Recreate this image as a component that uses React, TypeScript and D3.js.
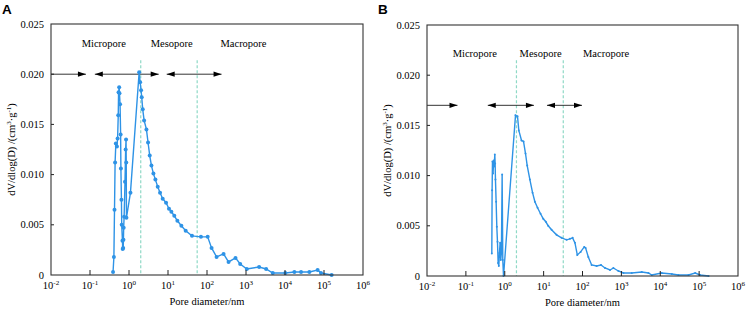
import React from "react";
import * as d3 from "d3";

// Pore size distribution, sample A (diameter in nm, dV/dlog(D) in cm³·g⁻¹)
const diamA = [
  0.39, 0.41, 0.425, 0.44, 0.46, 0.49, 0.51, 0.53, 0.54, 0.56, 0.57, 0.59, 0.61, 0.62,
  0.64, 0.65, 0.68, 0.69, 0.71, 0.72, 0.73, 0.75, 0.79, 0.82, 0.84, 0.85, 0.86, 1.09,
  1.82, 1.93, 2.04, 2.12, 2.25, 2.44, 2.8, 3.08, 3.4, 3.76, 4.23, 4.75, 5.45, 6.25,
  7.31, 8.91, 10.6, 12.2, 14.5, 17.4, 22.0, 28.4, 41.2, 70, 104, 131, 176, 266, 357,
  538, 710, 1050, 2170, 3280, 4850, 10200, 17400, 25800, 42100, 68700, 83600, 157000,
];
const dvA = [
  0.0003, 0.0018, 0.0065, 0.0112, 0.0131, 0.0128, 0.0136, 0.0159, 0.0182, 0.0187, 0.0181,
  0.017, 0.014, 0.0106, 0.0075, 0.005, 0.0034, 0.0026, 0.0027, 0.0035, 0.0047, 0.0058,
  0.0093, 0.0125, 0.0135, 0.0112, 0.0057, 0.0082, 0.0202, 0.0192, 0.0184, 0.0177, 0.0165,
  0.0154, 0.0145, 0.0132, 0.0119, 0.0109, 0.0101, 0.0095, 0.0088, 0.0082, 0.0076, 0.0072,
  0.0066, 0.0063, 0.0059, 0.0054, 0.0049, 0.0044, 0.0039, 0.0038, 0.0038, 0.0027, 0.0018,
  0.0021, 0.0013, 0.0017, 0.0011, 0.0006, 0.0008, 0.0006, 0.0002, 0.0002, 0.0003, 0.0003,
  0.0003, 0.0005, 0.0002, 0.0,
];

// Pore size distribution, sample B
const diamB = [
  0.465, 0.473, 0.483, 0.5, 0.52, 0.533, 0.555, 0.566, 0.577, 0.6, 0.625, 0.65, 0.676,
  0.703, 0.731, 0.76, 0.79, 0.82, 0.857, 0.89, 0.93, 1.89, 2.13, 2.3, 2.7, 3.04, 3.42,
  3.78, 4.43, 5.19, 5.96, 6.98, 8.34, 9.77, 11.4, 13.1, 16.0, 21.5, 29.0, 39.0, 47.5,
  55.7, 64.0, 73.5, 89.5, 111, 120, 141, 172, 231, 299, 379, 510, 622, 837, 1130, 1850,
  3340, 4970, 6050, 10900, 19800, 29400, 53300, 79200, 106000, 175000,
];
const dvB = [
  0.00225, 0.00855, 0.0114, 0.0102, 0.0115, 0.0109, 0.0121, 0.0112, 0.0096, 0.0074,
  0.0049, 0.0034, 0.0013, 0.001, 0.0023, 0.0033, 0.0016, 0.0023, 0.0101, 0.0016, 0.0,
  0.016, 0.0159, 0.0145, 0.0135, 0.0134, 0.0122, 0.011, 0.0096, 0.0083, 0.0074, 0.0068,
  0.0062, 0.0057, 0.0054, 0.005, 0.0046, 0.0041, 0.0038, 0.0036, 0.0037, 0.0038, 0.0033,
  0.0021, 0.0024, 0.0029, 0.0028, 0.0019, 0.0011, 0.001, 0.0011, 0.0008, 0.0006, 0.0008,
  0.0005, 0.0003, 0.0003, 0.0004, 0.0003, 0.0001, 0.0003, 0.0002, 0.0001, 0.0001, 0.0003,
  0.0001, 0.0,
];

const yTicks = [0, 0.005, 0.01, 0.015, 0.02, 0.025];
const xTickExps = [-2, -1, 0, 1, 2, 3, 4, 5, 6];
const regionNames = ["Micropore", "Mesopore", "Macropore"];

// Region annotations (positions in data units: nm)
const regionLabelXA = [0.226, 12.4, 863];
const regionLabelXB = [0.17, 8.37, 404];
const arrowsA: [number, number, boolean][] = [
  [0.01, 0.0786, false],
  [0.133, 5.78, true],
  [9.27, 236, true],
];
const arrowsB: [number, number, boolean][] = [
  [0.01, 0.0608, false],
  [0.366, 5.63, true],
  [12.2, 97, true],
];
const boundariesA = [2, 56];
const boundariesB = [2, 32];

const SERIF = "Liberation Serif, Times New Roman, Times, serif";
const SANS = "Liberation Sans, Arial, Helvetica, sans-serif";
const BLUE = "#2E93E6";
const DASH = "#8FD9C6";

const serifStyle = { fontFamily: SERIF, fontSize: "10.5px" } as React.CSSProperties;

type PanelProps = {
  title: string;
  titleX: number;
  left: number;
  right: number;
  top: number;
  bottom: number;
  diam: number[];
  dv: number[];
  r: number;
  arrowV: number;
  arrows: [number, number, boolean][];
  labelXs: number[];
  labelY: number;
  bounds: number[];
  dashTopV: number;
};

function ArrowHead({ x, y, dir }: { x: number; y: number; dir: 1 | -1 }) {
  const L = 8;
  const H = 2.6;
  return (
    <path
      d={`M${x},${y} L${x - dir * L},${y - H} L${x - dir * L},${y + H} Z`}
      fill="#000"
    />
  );
}

function Panel(p: PanelProps) {
  const x = d3.scaleLog().domain([1e-2, 1e6]).range([p.left, p.right]);
  const y = d3.scaleLinear().domain([0, 0.025]).range([p.bottom, p.top]);
  const pts = p.diam.map((d, i) => [d, p.dv[i]] as [number, number]);
  const line = d3
    .line<[number, number]>()
    .x((d) => x(d[0]))
    .y((d) => y(d[1]));
  const ay = y(p.arrowV);
  const cx = (p.left + p.right) / 2;
  const cy = (p.top + p.bottom) / 2;

  return (
    <g>
      <text
        x={p.titleX}
        y={14}
        style={{ fontFamily: SANS, fontWeight: "bold", fontSize: "13.5px" }}
      >
        {p.title}
      </text>

      {/* region boundaries */}
      {p.bounds.map((b, i) => (
        <line
          key={"b" + i}
          x1={x(b)}
          x2={x(b)}
          y1={y(p.dashTopV)}
          y2={p.bottom}
          stroke={DASH}
          strokeWidth={1.2}
          strokeDasharray="3,2"
        />
      ))}

      {/* region labels */}
      {regionNames.map((n, i) => (
        <text key={n} x={x(p.labelXs[i])} y={p.labelY} textAnchor="middle" style={serifStyle}>
          {n}
        </text>
      ))}

      {/* region arrows */}
      {p.arrows.map(([a, b, both], i) => (
        <g key={"a" + i}>
          <line x1={x(a)} x2={x(b)} y1={ay} y2={ay} stroke="#000" strokeWidth={0.8} />
          <ArrowHead x={x(b)} y={ay} dir={1} />
          {both && <ArrowHead x={x(a)} y={ay} dir={-1} />}
        </g>
      ))}

      {/* data */}
      <path d={line(pts) || ""} fill="none" stroke={BLUE} strokeWidth={1.4} />
      {pts.map((d, i) => (
        <circle key={"p" + i} cx={x(d[0])} cy={y(d[1])} r={p.r} fill={BLUE} />
      ))}

      {/* frame */}
      <rect
        x={p.left}
        y={p.top}
        width={p.right - p.left}
        height={p.bottom - p.top}
        fill="none"
        stroke="#333"
        strokeWidth={1.1}
      />

      {/* x ticks */}
      {xTickExps.map((e) => {
        const xx = x(Math.pow(10, e));
        return (
          <g key={"x" + e}>
            {e > -2 && e < 6 && (
              <line x1={xx} x2={xx} y1={p.bottom} y2={p.bottom - 5} stroke="#222" strokeWidth={1} />
            )}
            <text x={xx} y={p.bottom + 14} textAnchor="middle" style={serifStyle}>
              10
              <tspan dy={-4.5} style={{ fontSize: "7px" }}>
                {String(e)}
              </tspan>
            </text>
          </g>
        );
      })}

      {/* y ticks */}
      {yTicks.map((t) => (
        <g key={"y" + t}>
          {t > 0 && t < 0.025 && (
            <line x1={p.left} x2={p.left + 3} y1={y(t)} y2={y(t)} stroke="#222" strokeWidth={1} />
          )}
          <text x={p.left - 7} y={y(t) + 3.6} textAnchor="end" style={serifStyle}>
            {t === 0 ? "0" : t.toFixed(3)}
          </text>
        </g>
      ))}

      {/* axis titles */}
      <text x={cx} y={p.bottom + 30} textAnchor="middle" style={serifStyle}>
        Pore diameter/nm
      </text>
      <text
        transform={`translate(${p.left - 36},${cy}) rotate(-90)`}
        textAnchor="middle"
        style={serifStyle}
      >
        dV/dlog(D) /(cm
        <tspan dy={-4} style={{ fontSize: "7px" }}>
          3
        </tspan>
        <tspan dy={4}>·g</tspan>
        <tspan dy={-4} style={{ fontSize: "7px" }}>
          -1
        </tspan>
        <tspan dy={4}>)</tspan>
      </text>
    </g>
  );
}

export default function App() {
  return (
    <svg
      width={749}
      height={311}
      style={{ position: "absolute", left: 0, top: 0, background: "#fff" }}
    >
      <Panel
        title="A"
        titleX={2}
        left={51}
        right={363}
        top={24}
        bottom={275}
        diam={diamA}
        dv={dvA}
        r={2}
        arrowV={0.02}
        arrows={arrowsA}
        labelXs={regionLabelXA}
        labelY={47}
        bounds={boundariesA}
        dashTopV={0.0214}
      />
      <Panel
        title="B"
        titleX={378}
        left={427}
        right={738}
        top={25}
        bottom={276}
        diam={diamB}
        dv={dvB}
        r={1}
        arrowV={0.017}
        arrows={arrowsB}
        labelXs={regionLabelXB}
        labelY={57}
        bounds={boundariesB}
        dashTopV={0.0215}
      />
    </svg>
  );
}
